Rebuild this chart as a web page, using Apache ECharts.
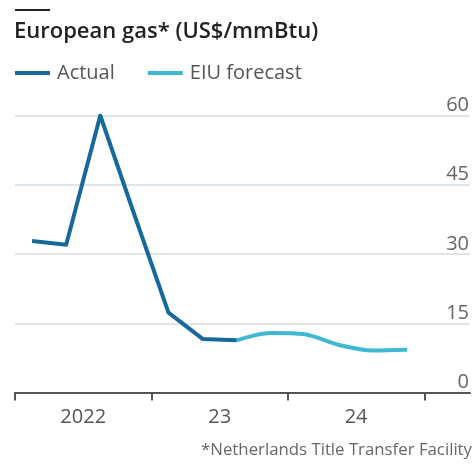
<!DOCTYPE html>
<html><head><meta charset="utf-8">
<script src="https://cdn.jsdelivr.net/npm/echarts@6/dist/echarts.min.js"></script>
<style>html,body{margin:0;padding:0;background:#fff}#c{width:472px;height:465px}</style>
</head><body><div id="c"></div>
<script>
const quarters = ['2022Q1','2022Q2','2022Q3','2022Q4','2023Q1','2023Q2','2023Q3','2023Q4','2024Q1','2024Q2','2024Q3','2024Q4'];
const actual = [32.8, 32.0, 60.0, 38.5, 17.3, 11.6, 11.3];
const forecast = [null, null, null, null, null, null, 11.3, 12.9, 12.6, 10.3, 9.1, 9.25];
const yearLabels = ['2022', '23', '24'];
const yTicks = [0, 15, 30, 45, 60];

const FONT = 'Open Sans';
const toXY = arr => arr.map((v, i) => v == null ? null : [i + 0.5, v]).filter(d => d);

const chart = echarts.init(document.getElementById('c'), null, {renderer: 'canvas'});
chart.setOption({
  animation: false,
  textStyle: {fontFamily: FONT},
  title: [
    {text: 'European gas* (US$/mmBtu)', left: 14, top: 21, padding: 0,
     textStyle: {fontFamily: FONT, fontSize: 22, fontWeight: 600, color: '#222'}},
    {text: '*Netherlands Title Transfer Facility', right: 0, top: 442, padding: 0,
     textStyle: {fontFamily: FONT, fontSize: 16.8, fontWeight: 400, color: '#666'}}
  ],
  graphic: [
    {type: 'rect', left: 15, top: 9, shape: {width: 35, height: 2}, style: {fill: '#222'}}
  ],
  legend: {
    left: 15, top: 63, padding: 0, itemWidth: 35, itemHeight: 4, itemGap: 33, icon: 'rect',
    textStyle: {fontFamily: FONT, fontSize: 20, color: '#555', padding: [0, 0, 0, 2]},
    data: ['Actual', 'EIU forecast']
  },
  grid: {left: 15, right: 0, top: 115.5, bottom: 72.5, containLabel: false},
  xAxis: {
    type: 'value', min: 0, max: 13.34,
    splitLine: {show: false},
    axisLine: {show: true, lineStyle: {color: '#555', width: 2}},
    axisTick: {show: true, customValues: [0, 4, 8, 12], length: 8, lineStyle: {color: '#555', width: 2}},
    axisLabel: {customValues: [2, 6, 10], margin: 15, fontSize: 20, color: '#555', fontFamily: FONT,
      formatter: v => yearLabels[Math.round((v - 2) / 4)]}
  },
  yAxis: {
    type: 'value', position: 'right', min: yTicks[0], max: yTicks[yTicks.length - 1], interval: 15,
    axisLine: {show: false}, axisTick: {show: false},
    splitLine: {lineStyle: {color: '#d2dce4', width: 1.5}},
    axisLabel: {inside: true, verticalAlign: 'bottom', margin: 1, fontSize: 20, color: '#666', fontFamily: FONT}
  },
  series: [
    {name: 'Actual', type: 'line', data: toXY(actual), symbol: 'none', z: 3,
     itemStyle: {color: '#17699b'}, lineStyle: {color: '#17699b', width: 4, join: 'round'}},
    {name: 'EIU forecast', type: 'line', data: toXY(forecast), symbol: 'none', smooth: 0.3, z: 2,
     itemStyle: {color: '#3fb8d2'}, lineStyle: {color: '#3fb8d2', width: 4}}
  ]
});
</script></body></html>
